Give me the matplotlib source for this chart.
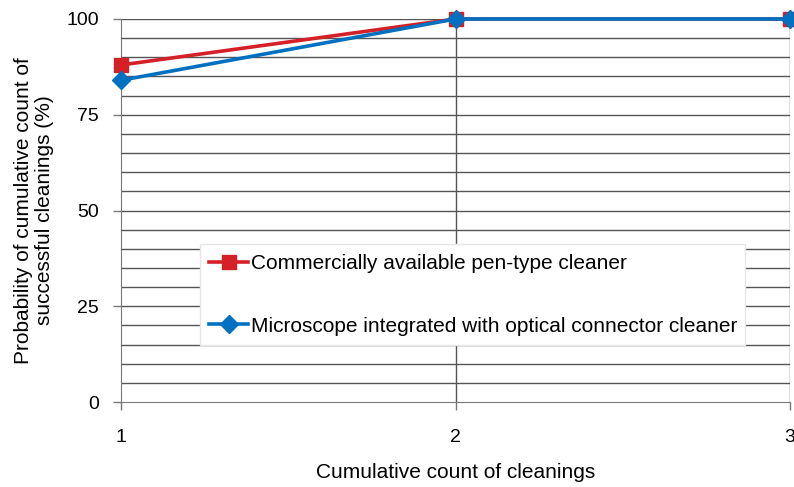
import matplotlib.pyplot as plt
import numpy as np

plt.rcParams['font.family'] = ['Liberation Sans', 'DejaVu Sans']

# Cumulative cleanings vs. success probability
cleanings = [1, 2, 3]
pen_cleaner = [88, 100, 100]
microscope_cleaner = [84, 100, 100]

fig = plt.figure(figsize=(7.94, 4.87), dpi=100)
ax = fig.add_axes([0.1524, 0.1745, 0.8426, 0.7865])

# horizontal grid every 5 %
for y in np.arange(5, 101, 5):
    ax.axhline(y, color='#555555', linewidth=1.0, zorder=1)
ax.axvline(2, color='#555555', linewidth=1.0, zorder=1)
ax.axvline(3, color='#555555', linewidth=1.0, zorder=1)

ax.plot(cleanings, pen_cleaner, color='#d42027', linewidth=2.6, marker='s',
        markersize=10.5, label='Commercially available pen-type cleaner',
        clip_on=False, zorder=3)
ax.plot(cleanings, microscope_cleaner, color='#0070c0', linewidth=2.6, marker='D',
        markersize=9.5, label='Microscope integrated with optical connector cleaner',
        clip_on=False, zorder=4)

ax.set_xlim(1, 3)
ax.set_ylim(0, 100)
ax.set_xticks([1, 2, 3])
ax.set_yticks([0, 25, 50, 75, 100])

for s in ['top', 'right']:
    ax.spines[s].set_visible(False)
ax.spines['left'].set_color('#777777')
ax.spines['bottom'].set_color('#777777')
ax.tick_params(axis='both', labelsize=14, length=5.5, color='#777777', width=1)
ax.tick_params(axis='x', pad=14)
ax.tick_params(axis='y', pad=10.5)

ax.set_xlabel('Cumulative count of cleanings', fontsize=15, labelpad=12)
ax.set_ylabel('Probability of cumulative count of\nsuccessful cleanings (%)',
              fontsize=15, labelpad=9, linespacing=1.1)

leg = ax.legend(loc='lower left', bbox_to_anchor=(0.118, 0.149, 0.815, 0.274),
                mode='expand', fontsize=15, labelspacing=2.1, handlelength=1.85,
                fancybox=False, framealpha=1, edgecolor='#e6e6e6',
                borderpad=0.45, handletextpad=0.15, borderaxespad=0)
leg.set_zorder(5)

fig.savefig('out.png', dpi=100)
